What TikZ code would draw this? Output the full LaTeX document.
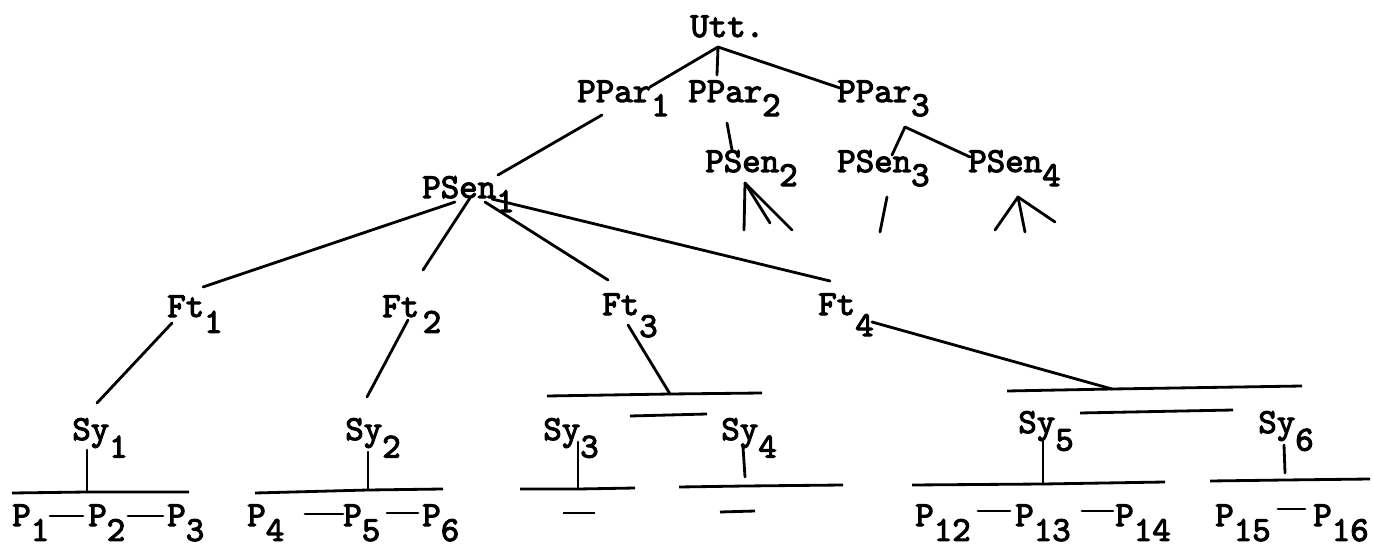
\documentclass[tikz,border=0pt]{standalone}
\usepackage{fontspec}
\setmonofont{lmmono10-regular.otf}[FakeBold=3]
\usepackage{tikz}
\newcommand{\lblfont}{\ttfamily\fontsize{20}{24}\selectfont}
\newcommand{\sbs}[2][9pt]{\raisebox{-#1}{#2}}

\begin{document}
\begin{tikzpicture}[
    x=0.2mm, y=-0.2mm,
    lbl/.style={anchor=base west,inner sep=0pt,font=\lblfont},
    edge/.style={line width=1.6pt,line cap=round},
    bar/.style={line width=1.6pt}
]
\fill[white] (0,0) rectangle (1373,548);
\useasboundingbox (0,0) rectangle (1373,548);

\node[lbl] (utt)   at (690,37)  {Utt.};
\node[lbl] (ppar1) at (577,102) {PPar\sbs[8pt]{1}};
\node[lbl] (ppar2) at (688,102) {PPar\sbs[8pt]{2}};
\node[lbl] (ppar3) at (837,102) {PPar\sbs[8pt]{3}};
\node[lbl] (psen1) at (422,198) {PSen\sbs[8pt]{1}};
\node[lbl] (psen2) at (705,172) {PSen\sbs[8pt]{2}};
\node[lbl] (psen3) at (837,172) {PSen\sbs[8pt]{3}};
\node[lbl] (psen4) at (968,172) {PSen\sbs[8pt]{4}};
\node[lbl] (ft1)   at (167,317) {Ft\sbs{1}};
\node[lbl] (ft2)   at (382,317) {Ft\kern2pt\sbs{2}};
\node[lbl] (ft3)   at (602,315) {Ft\sbs[12.5pt]{3}};
\node[lbl] (ft4)   at (818,315) {Ft\sbs[12pt]{4}};
\node[lbl] (sy1)   at (72,440)   {Sy\sbs[10pt]{1}};
\node[lbl] (sy2)   at (345,440)  {Sy\sbs[10pt]{2}};
\node[lbl] (sy3)   at (543,440)  {Sy\sbs[10pt]{3}};
\node[lbl] (sy4)   at (721,440)  {Sy\sbs[10pt]{4}};
\node[lbl] (sy5)   at (1018,433) {Sy\sbs[10pt]{5}};
\node[lbl] (sy6)   at (1258,433) {Sy\sbs[10pt]{6}};
\foreach \n/\px in {1/12,2/88,3/167,4/247,5/343,6/422,
    12/915,13/1015,14/1115,15/1215,16/1313}
  \node[lbl] (p\n) at (\px,526) {P\sbs[8.5pt]{\n}};

\coordinate (uttroot) at ([shift={(28,10)}]utt.base west);
\foreach \n/\dx/\dy in {ppar1/73/-15,ppar2/29/-27,ppar3/3/-14}
  \draw[edge] (uttroot) -- ([shift={(\dx,\dy)}]\n.base west);

\draw[edge] ([shift={(25,13)}]ppar1.base west) -- ([shift={(76,-23)}]psen1.base west);
\draw[edge] ([shift={(39,21)}]ppar2.base west) -- ([shift={(27,-22)}]psen2.base west);
\coordinate (ppar3root) at ([shift={(68,25)}]ppar3.base west);
\draw[edge] (ppar3root) -- ([shift={(55,-17)}]psen3.base west);
\draw[edge] (ppar3root) -- ([shift={(2,-15)}]psen4.base west);

\coordinate (psen2root) at ([shift={(40,11)}]psen2.base west);
\foreach \i/\dx/\dy in {a/-1/47,b/25/40,c/47/47} {
  \coordinate (psen2\i) at ([shift={(\dx,\dy)}]psen2root);
  \draw[edge] (psen2root) -- (psen2\i);
}
\coordinate (psen3root) at ([shift={(50,25)}]psen3.base west);
\coordinate (psen3a) at ([shift={(-7,35)}]psen3root);
\draw[edge] (psen3root) -- (psen3a);
\coordinate (psen4root) at ([shift={(50,25)}]psen4.base west);
\foreach \i/\dx/\dy in {a/-23/33,b/7/35,c/37/25} {
  \coordinate (psen4\i) at ([shift={(\dx,\dy)}]psen4root);
  \draw[edge] (psen4root) -- (psen4\i);
}

\foreach \ax/\ay/\n/\bx/\by in {33/4/ft1/36/-30,48/0/ft2/41/-47,63/4/ft3/6/-35,70/1/ft4/12/-34}
  \draw[edge] ([shift={(\ax,\ay)}]psen1.base west) -- ([shift={(\bx,\by)}]\n.base west);

\draw[edge] ([shift={(5,6)}]ft1.base west) -- ([shift={(25,-37)}]sy1.base west);
\draw[edge] ([shift={(26,3)}]ft2.base west) -- ([shift={(22,-43)}]sy2.base west);

\draw[bar] (547,396) -- (670,394) coordinate (b3j) -- (762,393);
\draw[bar] (630,416) -- (707,414);
\draw[bar] (1007,391) -- (1112,389) coordinate (b4j) -- (1302,386);
\draw[bar] (1080,413) -- (1233,410);
\draw[edge] ([shift={(26,10)}]ft3.base west) -- (b3j);
\draw[edge] ([shift={(54,7)}]ft4.base west) -- (b4j);

\draw[bar] (12,493) -- (87,492) coordinate (bs1) -- (189,492);
\draw[bar] (255,493) -- (368,490) coordinate (bs2) -- (443,489);
\draw[bar] (520,489) -- (578,489) coordinate (bs3) -- (635,488);
\draw[bar] (563,513) -- (595,513);
\draw[bar] (679,487) -- (745,486) coordinate (bs4) -- (843,485);
\draw[bar] (720,512) -- (755,511);
\draw[bar] (912,485) -- (1043,484) coordinate (bs5) -- (1165,482);
\draw[bar] (1210,481) -- (1285,480) coordinate (bs6) -- (1370,479);

\draw[edge] ([shift={(15,10)}]sy1.base west) -- (bs1);
\draw[edge] ([shift={(23,12)}]sy2.base west) -- (bs2);
\draw[edge] ([shift={(35,2)}]sy3.base west) -- (bs3);
\draw[edge] ([shift={(22,7)}]sy4.base west) -- ([shift={(0,-9)}]bs4);
\draw[edge] ([shift={(25,7)}]sy5.base west) -- (bs5);
\draw[edge] ([shift={(26,12)}]sy6.base west) -- ([shift={(0,-7)}]bs6);

\foreach \a/\b/\ax/\bx/\h in {p1/p2/38/-5/10,p2/p3/40/-4/10,p4/p5/58/0/12,p5/p6/44/-4/13,
    p12/p13/63/-5/15,p13/p14/67/-2/15,p15/p16/63/-8/17}
  \draw[edge] ([shift={(\ax,-\h)}]\a.base west) -- ([shift={(\bx,-\h)}]\b.base west);
\end{tikzpicture}
\end{document}
